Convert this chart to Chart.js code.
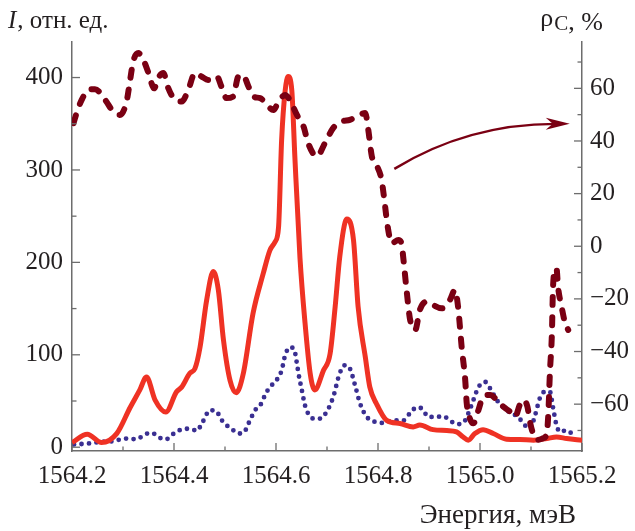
<!DOCTYPE html>
<html>
<head>
<meta charset="utf-8">
<script src="https://cdn.jsdelivr.net/npm/chart.js@4/dist/chart.umd.min.js"></script>
<style>
  body { margin: 0; background: #fff; }
  #wrap { width: 635px; height: 531px; }
</style>
</head>
<body>
<div id="wrap"><canvas id="spectrum" width="635" height="531"></canvas></div>
<script>
// photon energy (meV) and intensity, solid red curve
var redE = [1564.200, 1564.230, 1564.258, 1564.288, 1564.314, 1564.333, 1564.346, 1564.363, 1564.384, 1564.405,
    1564.415, 1564.431, 1564.441, 1564.451, 1564.464, 1564.477, 1564.487, 1564.497, 1564.510, 1564.522,
    1564.536, 1564.555, 1564.575, 1564.588, 1564.598, 1564.605, 1564.611, 1564.618, 1564.624, 1564.631,
    1564.637, 1564.647, 1564.657, 1564.667, 1564.676, 1564.693, 1564.706, 1564.716, 1564.725, 1564.739,
    1564.752, 1564.761, 1564.775, 1564.784, 1564.797, 1564.817, 1564.843, 1564.869, 1564.882, 1564.908,
    1564.935, 1564.954, 1564.967, 1564.977, 1564.990, 1565.006, 1565.026, 1565.052, 1565.078, 1565.105,
    1565.131, 1565.150, 1565.170, 1565.200];
var redI = [5, 14, 5, 15, 43, 62, 76, 51, 38, 60,
    65, 80, 85, 108, 159, 190, 170, 116, 72, 59,
    80, 145, 188, 213, 222, 238, 332, 386, 401, 386,
    314, 205, 134, 80, 62, 83, 101, 152, 206, 247,
    224, 152, 98, 65, 47, 29, 25.6, 22, 24, 19,
    18, 16.6, 11, 7.6, 14.8, 19, 14.8, 8.7, 8.3, 7.6,
    9.4, 11, 9.4, 7.6];

// dotted blue curve
var blueE = [1564.204, 1564.232, 1564.255, 1564.281, 1564.304, 1564.327, 1564.343, 1564.357, 1564.369, 1564.384,
    1564.395, 1564.408, 1564.422, 1564.435, 1564.445, 1564.454, 1564.471, 1564.482, 1564.494, 1564.503,
    1564.516, 1564.527, 1564.538, 1564.546, 1564.559, 1564.572, 1564.578, 1564.588, 1564.601, 1564.611,
    1564.618, 1564.627, 1564.635, 1564.641, 1564.644, 1564.650, 1564.657, 1564.663, 1564.673, 1564.686,
    1564.699, 1564.712, 1564.725, 1564.735, 1564.745, 1564.755, 1564.765, 1564.778, 1564.794, 1564.810,
    1564.830, 1564.850, 1564.863, 1564.876, 1564.886, 1564.899, 1564.915, 1564.928, 1564.941, 1564.954,
    1564.967, 1564.977, 1564.987, 1564.997, 1565.010, 1565.020, 1565.033, 1565.049, 1565.062, 1565.075,
    1565.085, 1565.098, 1565.108, 1565.118, 1565.127, 1565.137, 1565.143, 1565.150, 1565.157, 1565.170,
    1565.180];
var blueI = [3, 4, 5.7, 6.5, 9.4, 8.7, 14, 15.5, 11, 8.3,
    13, 17.7, 20, 19.5, 17.7, 25, 40, 39.3, 29, 23.8,
    18.4, 14.8, 16.6, 25.6, 40, 48, 56, 65, 72.5, 83,
    99.6, 108, 106.8, 90.6, 80, 63.5, 45, 36.5, 31, 31,
    38, 54, 80, 88.7, 85, 67, 47, 32.8, 27.4, 26.3,
    29, 29, 37, 43, 41.8, 32.8, 32.8, 33.5, 29, 25,
    26.3, 36.5, 51, 65, 70.7, 63.5, 51, 41.8, 36.5, 32.8,
    25.6, 20, 34.6, 54, 60, 60, 43.6, 23.8, 16.6, 18.4,
    14.8];

// circular polarization degree, %, dashed curve on the right axis
var rhoE = [1564.203, 1564.209, 1564.219, 1564.232, 1564.245, 1564.265, 1564.281, 1564.294, 1564.307, 1564.314,
    1564.320, 1564.330, 1564.340, 1564.350, 1564.361, 1564.369, 1564.379, 1564.389, 1564.402, 1564.415,
    1564.428, 1564.441, 1564.454, 1564.467, 1564.484, 1564.493, 1564.503, 1564.516, 1564.526, 1564.535,
    1564.546, 1564.555, 1564.569, 1564.582, 1564.595, 1564.605, 1564.618, 1564.627, 1564.641, 1564.654,
    1564.663, 1564.680, 1564.696, 1564.712, 1564.729, 1564.745, 1564.758, 1564.775, 1564.781, 1564.788,
    1564.797, 1564.807, 1564.814, 1564.818, 1564.827, 1564.840, 1564.846, 1564.850, 1564.856, 1564.863,
    1564.873, 1564.882, 1564.896, 1564.908, 1564.925, 1564.941, 1564.951, 1564.957, 1564.964, 1564.971,
    1564.974, 1564.980, 1564.987, 1564.997, 1565.006, 1565.020, 1565.033, 1565.046, 1565.059, 1565.069,
    1565.078, 1565.086, 1565.093, 1565.098, 1565.105, 1565.112, 1565.123, 1565.131, 1565.134, 1565.137,
    1565.141, 1565.143, 1565.147, 1565.150, 1565.153, 1565.160, 1565.167, 1565.173];
var rhoC = [46.8, 50.6, 55.6, 59.4, 59.7, 55.6, 51.2, 49.9, 55, 63.2,
    70.2, 73.4, 70.8, 65.8, 60, 63.9, 65.8, 60, 55.6, 55,
    59.4, 65.8, 64.5, 63.2, 64.5, 60.7, 56.3, 56.9, 64.5, 65.1,
    60.7, 56.9, 56.3, 53.7, 51.8, 55, 57.5, 55.6, 49.9, 45.5,
    39.2, 34.1, 39.2, 44.9, 47.4, 48, 49.3, 50.6, 44.2, 34.1,
    30.9, 25.2, 15.1, 8.7, 1.1, 2.4, 1.1, -5.2, -16.6, -28,
    -31.8, -24.2, -21, -22.3, -23.6, -20.4, -16.6, -23, -38.2, -50.8,
    -59.7, -65.4, -67.3, -62.2, -57.2, -56.5, -58.4, -61, -62.9, -64.8,
    -60.3, -58.4, -61, -66.7, -71.7, -73.6, -73, -71.1, -63.5, -48.3,
    -33.1, -16.6, -9, -8.4, -15.4, -23, -29.3, -31.8];

// arrow pointing from the dashed curve to its axis: start, control, tip (energy, rho)
var arrowE = [1564.832, 1564.976, 1565.176];
var arrowRho = [29.4, 46.5, 46.5];

var serif = "'Liberation Serif', 'DejaVu Serif', serif";
var ink = '#231f20';
var axisGray = '#6d6d6d';
var darkRed = '#7a0013';

function points(xs, ys) {
    var out = [];
    for (var i = 0; i < xs.length; i++) out.push({ x: xs[i], y: ys[i] });
    return out;
}

function onStep(v, step) {
    var k = v / step;
    return Math.abs(k - Math.round(k)) < 1e-6;
}

// keep the odd range ends as the axis limits, but put ticks only on whole steps
function stepTicks(s) {
    var step = s.options.ticks.stepSize, out = [];
    for (var k = Math.ceil(s.min / step - 1e-9); k * step <= s.max + 1e-9; k++) {
        out.push({ value: +(k * step).toFixed(6) });
    }
    s.ticks = out;
}

// inward tick marks, long on labelled ticks
var tickMarks = {
    id: 'tickMarks',
    afterDraw: function (chart) {
        var ctx = chart.ctx;
        ctx.save();
        ctx.strokeStyle = axisGray;
        ctx.lineWidth = 1.3;
        ['x', 'y', 'y1'].forEach(function (id) {
            var s = chart.scales[id];
            s.ticks.forEach(function (t, i) {
                var len = t.label !== '' ? 8 : 4.5;
                var p = s.getPixelForTick(i);
                ctx.beginPath();
                if (id === 'x') {
                    ctx.moveTo(p, s.top); ctx.lineTo(p, s.top - len);
                } else if (id === 'y') {
                    ctx.moveTo(s.right, p); ctx.lineTo(s.right + len, p);
                } else {
                    ctx.moveTo(s.left, p); ctx.lineTo(s.left - len, p);
                }
                ctx.stroke();
            });
        });
        ctx.restore();
    }
};

// axis captions and the curved arrow
var captions = {
    id: 'captions',
    afterDraw: function (chart) {
        var ctx = chart.ctx;
        var sx = chart.scales.x, sy = chart.scales.y1;
        ctx.save();

        var p0x = sx.getPixelForValue(arrowE[0]), p0y = sy.getPixelForValue(arrowRho[0]);
        var cx = sx.getPixelForValue(arrowE[1]), cy = sy.getPixelForValue(arrowRho[1]);
        var tx = sx.getPixelForValue(arrowE[2]), ty = sy.getPixelForValue(arrowRho[2]);
        var dx = tx - cx, dy = ty - cy, d = Math.sqrt(dx * dx + dy * dy);
        dx /= d; dy /= d;
        ctx.strokeStyle = darkRed;
        ctx.fillStyle = darkRed;
        ctx.lineWidth = 2.4;
        ctx.beginPath();
        ctx.moveTo(p0x, p0y);
        ctx.quadraticCurveTo(cx, cy, tx - dx * 14, ty - dy * 14);
        ctx.stroke();
        ctx.beginPath();
        ctx.moveTo(tx, ty);
        ctx.lineTo(tx - dx * 24 - dy * 6, ty - dy * 24 + dx * 6);
        ctx.lineTo(tx - dx * 17, ty - dy * 17);
        ctx.lineTo(tx - dx * 24 + dy * 6, ty - dy * 24 - dx * 6);
        ctx.closePath();
        ctx.fill();

        ctx.fillStyle = ink;
        ctx.textBaseline = 'alphabetic';
        ctx.textAlign = 'left';
        ctx.font = 'italic 25px ' + serif;
        ctx.fillText('I', 8, 28);
        var w = ctx.measureText('I').width;
        ctx.font = '25px ' + serif;
        ctx.fillText(', отн. ед.', 8 + w + 1, 28);

        // rho with subscript C, right end near x = 603
        ctx.font = '26px ' + serif;
        var wr = ctx.measureText('ρ').width;
        var wt = ctx.measureText(', %').width;
        ctx.font = '21px ' + serif;
        var wc = ctx.measureText('C').width;
        var x0 = 603 - wr - wc - wt - 1;
        ctx.font = '26px ' + serif;
        ctx.fillText('ρ', x0, 26);
        ctx.font = '21px ' + serif;
        ctx.fillText('C', x0 + wr + 1, 30);
        ctx.font = '26px ' + serif;
        ctx.fillText(', %', x0 + wr + wc + 1, 30);

        ctx.textAlign = 'right';
        ctx.font = '27px ' + serif;
        ctx.fillText('Энергия, мэВ', 576, 523);
        ctx.restore();
    }
};

var tickFont = { family: serif, size: 25 };

new Chart(document.getElementById('spectrum'), {
    type: 'line',
    data: {
        datasets: [
            {
                data: points(rhoE, rhoC),
                yAxisID: 'y1',
                borderColor: darkRed,
                borderWidth: 6,
                borderDash: [8, 12],
                borderCapStyle: 'round',
                cubicInterpolationMode: 'monotone',
                pointRadius: 0
            },
            {
                data: points(redE, redI),
                yAxisID: 'y',
                borderColor: '#ef3224',
                borderWidth: 5,
                borderJoinStyle: 'round',
                cubicInterpolationMode: 'monotone',
                pointRadius: 0
            },
            {
                data: points(blueE, blueI),
                yAxisID: 'y',
                borderColor: '#3a2f92',
                borderWidth: 4.8,
                borderDash: [0, 7.5],
                borderCapStyle: 'round',
                cubicInterpolationMode: 'monotone',
                pointRadius: 0
            }
        ]
    },
    options: {
        responsive: false,
        devicePixelRatio: 1,
        animation: false,
        layout: { padding: { top: 41.5, left: 0, right: 0, bottom: 0 } },
        plugins: { legend: { display: false }, tooltip: { enabled: false } },
        scales: {
            x: {
                type: 'linear',
                min: 1564.2,
                max: 1565.2,
                afterBuildTicks: stepTicks,
                afterFit: function (s) { s.height = 80; },
                grid: { display: false, drawTicks: false },
                border: { display: true, color: axisGray, width: 1.5 },
                ticks: {
                    stepSize: 0.1,
                    autoSkip: false,
                    maxRotation: 0,
                    padding: 10,
                    color: ink,
                    font: tickFont,
                    callback: function (v) {
                        return Math.round(v * 10) % 2 === 0 ? v.toFixed(1) : '';
                    }
                }
            },
            y: {
                position: 'left',
                min: -4.1,
                max: 439,
                afterBuildTicks: stepTicks,
                afterFit: function (s) { s.width = 72; },
                grid: { display: false, drawTicks: false },
                border: { display: true, color: axisGray, width: 1.5 },
                ticks: {
                    stepSize: 50,
                    autoSkip: false,
                    padding: 9,
                    color: ink,
                    font: tickFont,
                    callback: function (v) { return onStep(v, 100) ? String(Math.round(v)) : ''; }
                }
            },
            y1: {
                position: 'right',
                min: -77.8,
                max: 77.8,
                afterBuildTicks: stepTicks,
                afterFit: function (s) { s.width = 53; },
                grid: { display: false, drawTicks: false },
                border: { display: true, color: axisGray, width: 1.5 },
                ticks: {
                    stepSize: 10,
                    autoSkip: false,
                    padding: 8,
                    color: ink,
                    font: tickFont,
                    callback: function (v) {
                        if (!onStep(v, 20)) return '';
                        var n = Math.round(v);
                        return n < 0 ? '\u2212' + (-n) : String(n);
                    }
                }
            }
        }
    },
    plugins: [tickMarks, captions]
});
</script>
</body>
</html>
